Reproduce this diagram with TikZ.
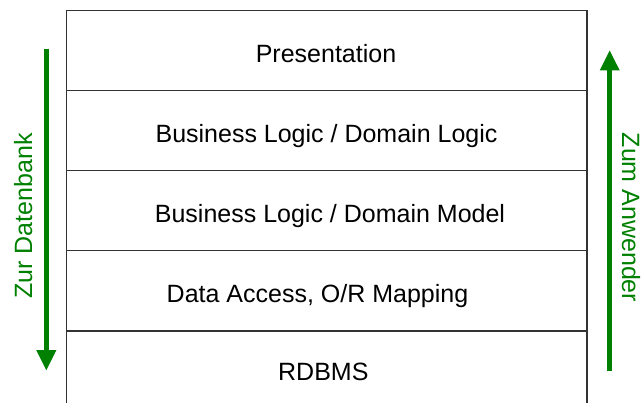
\documentclass[tikz,border=0pt]{standalone}
\usepackage{fontspec}
\setmainfont{Liberation Sans}
\usetikzlibrary{arrows.meta}
\definecolor{arrowgreen}{RGB}{0,128,0}
\tikzset{
  layertext/.style={anchor=base, inner sep=0pt, font=\fontsize{25}{30}\selectfont, text=black},
  sidetext/.style={anchor=base, inner sep=0pt, font=\fontsize{25}{30}\selectfont, text=arrowgreen},
  frameline/.style={draw=black!80, line width=1.2pt},
  flowarrow/.style={draw=arrowgreen, line width=5pt, -{Triangle[length=20.5pt,width=18.5pt]}}
}
\begin{document}
\begin{tikzpicture}[x=1pt,y=-1pt]
\useasboundingbox (0,0) rectangle (642,403);
% frame
\coordinate (tl) at (66.7,10.3);
\coordinate (tr) at (587,10.3);
\coordinate (bl) at (66.7,403);
\coordinate (br) at (587,403);
\coordinate (d1l) at (66.7,90.4);  \coordinate (d1r) at (587,90.4);
\coordinate (d2l) at (66.7,170.6); \coordinate (d2r) at (587,170.6);
\coordinate (d3l) at (66.7,250.8); \coordinate (d3r) at (587,250.8);
\coordinate (d4l) at (66.7,331);   \coordinate (d4r) at (587,331);
\draw[frameline] (bl) -- (tl) -- (tr) -- (br);
\draw[frameline] (d1l) -- (d1r);
\draw[frameline] (d2l) -- (d2r);
\draw[frameline] (d3l) -- (d3r);
\draw[frameline] (d4l) -- (d4r);
% layer labels
\node[layertext] (pres) at (326,62.3) {Presentation};
\node[layertext] (blogic) at (326.5,142.5) {Business Logic / Domain Logic};
\node[layertext] (bmodel) at (330,222.7) {Business Logic / Domain Model};
\node[layertext] (dao) at (317.5,302.8) {Data Access, O/R Mapping};
\node[layertext] (rdbms) at (323.3,380) {RDBMS};
% arrows
\coordinate (lstart) at (46.3,49);
\coordinate (lend) at (46.3,370.7);
\coordinate (rstart) at (609.7,371);
\coordinate (rend) at (609.7,50);
\draw[flowarrow] (lstart) -- (lend);
\draw[flowarrow] (rstart) -- (rend);
% side labels
\node[sidetext, rotate=90] (zdb) at (32,216) {Zur Datenbank};
\node[sidetext, rotate=-90] (zan) at (622,217.5) {Zum Anwender};
\end{tikzpicture}
\end{document}
